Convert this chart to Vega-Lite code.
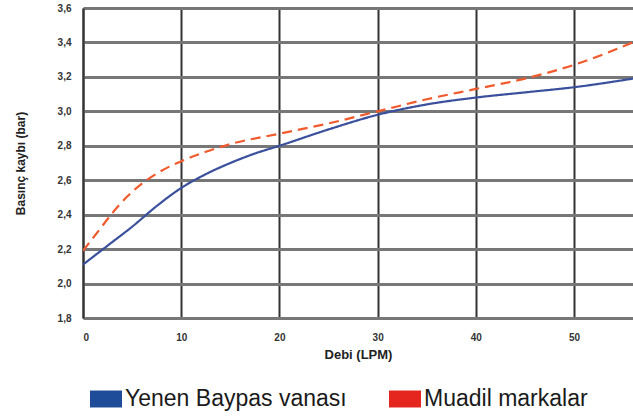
{
  "$schema": "https://vega.github.io/schema/vega-lite/v6.json",
  "autosize": {"type": "none"},
  "padding": {"left": 83, "top": 8, "right": 0, "bottom": 101},
  "width": 550,
  "height": 310,
  "background": "white",
  "data": {"values": [
    {"debi": 0, "kayip": 2.11, "seri": "Yenen Baypas vanası"},
    {"debi": 2.5, "kayip": 2.22, "seri": "Yenen Baypas vanası"},
    {"debi": 5, "kayip": 2.33, "seri": "Yenen Baypas vanası"},
    {"debi": 7.5, "kayip": 2.45, "seri": "Yenen Baypas vanası"},
    {"debi": 10, "kayip": 2.555, "seri": "Yenen Baypas vanası"},
    {"debi": 12.5, "kayip": 2.635, "seri": "Yenen Baypas vanası"},
    {"debi": 15, "kayip": 2.7, "seri": "Yenen Baypas vanası"},
    {"debi": 17.5, "kayip": 2.755, "seri": "Yenen Baypas vanası"},
    {"debi": 20, "kayip": 2.8, "seri": "Yenen Baypas vanası"},
    {"debi": 25, "kayip": 2.895, "seri": "Yenen Baypas vanası"},
    {"debi": 30, "kayip": 2.98, "seri": "Yenen Baypas vanası"},
    {"debi": 35, "kayip": 3.04, "seri": "Yenen Baypas vanası"},
    {"debi": 40, "kayip": 3.08, "seri": "Yenen Baypas vanası"},
    {"debi": 45, "kayip": 3.11, "seri": "Yenen Baypas vanası"},
    {"debi": 50, "kayip": 3.14, "seri": "Yenen Baypas vanası"},
    {"debi": 56, "kayip": 3.19, "seri": "Yenen Baypas vanası"},
    {"debi": 0, "kayip": 2.19, "seri": "Muadil markalar"},
    {"debi": 1.5, "kayip": 2.3, "seri": "Muadil markalar"},
    {"debi": 3, "kayip": 2.41, "seri": "Muadil markalar"},
    {"debi": 4.5, "kayip": 2.505, "seri": "Muadil markalar"},
    {"debi": 6, "kayip": 2.58, "seri": "Muadil markalar"},
    {"debi": 8, "kayip": 2.655, "seri": "Muadil markalar"},
    {"debi": 10, "kayip": 2.71, "seri": "Muadil markalar"},
    {"debi": 12.5, "kayip": 2.765, "seri": "Muadil markalar"},
    {"debi": 15, "kayip": 2.81, "seri": "Muadil markalar"},
    {"debi": 20, "kayip": 2.87, "seri": "Muadil markalar"},
    {"debi": 25, "kayip": 2.93, "seri": "Muadil markalar"},
    {"debi": 30, "kayip": 3.0, "seri": "Muadil markalar"},
    {"debi": 35, "kayip": 3.07, "seri": "Muadil markalar"},
    {"debi": 40, "kayip": 3.13, "seri": "Muadil markalar"},
    {"debi": 45, "kayip": 3.19, "seri": "Muadil markalar"},
    {"debi": 50, "kayip": 3.27, "seri": "Muadil markalar"},
    {"debi": 56, "kayip": 3.4, "seri": "Muadil markalar"}
  ]},
  "mark": {"type": "line", "interpolate": "monotone", "strokeWidth": 2.2, "clip": true},
  "encoding": {
    "x": {
      "field": "debi", "type": "quantitative",
      "scale": {"domain": [0, 56], "nice": false},
      "axis": {
        "title": "Debi (LPM)", "values": [0, 10, 20, 30, 40, 50],
        "grid": true, "gridColor": "#333333", "gridWidth": 2, "gridOpacity": 1,
        "domain": false, "ticks": false,
        "labelFont": "Liberation Sans", "labelFontSize": 10, "labelFontWeight": "bold", "labelColor": "#333333",
        "labelPadding": 14,
        "titleFont": "Liberation Sans", "titleFontSize": 13, "titleFontWeight": "bold", "titleColor": "#222222",
        "titlePadding": 6
      }
    },
    "y": {
      "field": "kayip", "type": "quantitative",
      "scale": {"domain": [1.8, 3.6], "nice": false, "zero": false},
      "axis": {
        "title": "Basınç kaybı (bar)", "values": [1.8, 2.0, 2.2, 2.4, 2.6, 2.8, 3.0, 3.2, 3.4, 3.6],
        "labelExpr": "replace(format(datum.value, '.1f'), '.', ',')",
        "grid": true, "gridColor": "#777777", "gridWidth": 3, "gridOpacity": 1,
        "domain": true, "domainColor": "#333333", "domainWidth": 2, "ticks": false,
        "labelFont": "Liberation Sans", "labelFontSize": 10, "labelFontWeight": "bold", "labelColor": "#333333",
        "labelPadding": 12,
        "titleFont": "Liberation Sans", "titleFontSize": 12, "titleFontWeight": "bold", "titleColor": "#222222",
        "titlePadding": 30
      }
    },
    "color": {
      "field": "seri", "type": "nominal",
      "scale": {"domain": ["Yenen Baypas vanası", "Muadil markalar"], "range": ["#3a509c", "#f05a2c"]},
      "legend": {
        "title": null, "orient": "none", "direction": "horizontal",
        "legendX": 7, "legendY": 375,
        "symbolType": "M-1,-0.53H1V0.53H-1Z", "symbolSize": 1024, "symbolStrokeWidth": 0,
        "labelFont": "Liberation Sans", "labelFontSize": 23, "labelColor": "#1a1a1a", "labelOffset": 3,
        "columnPadding": 42, "labelLimit": 400,
        "encode": {"symbols": {"update": {"fill": {"signal": "datum.value == 'Muadil markalar' ? '#e4261f' : '#1f4c98'"}, "strokeWidth": {"value": 0}, "opacity": {"value": 1}}}}
      }
    },
    "strokeDash": {
      "field": "seri", "type": "nominal",
      "scale": {"domain": ["Yenen Baypas vanası", "Muadil markalar"], "range": [[1, 0], [10, 6]]},
      "legend": null
    }
  },
  "config": {"view": {"stroke": null}}
}
